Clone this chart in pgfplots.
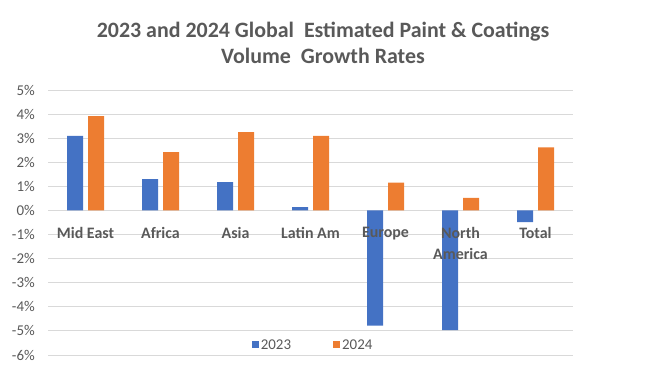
\documentclass[border=0pt]{standalone}
\usepackage{pgfplots}
\pgfplotsset{compat=1.18}
\usepackage{fontspec}
\setmainfont{Carlito}
\definecolor{bblue}{HTML}{4472C4}
\definecolor{borange}{HTML}{ED7D31}
\definecolor{tgray}{HTML}{595959}
\definecolor{ggray}{HTML}{D9D9D9}
\begin{document}
\begin{tikzpicture}[x=1bp,y=1bp]
\path[use as bounding box] (0,0) rectangle (660,376);
\node[anchor=base, font=\fontsize{22}{26}\selectfont\bfseries, text=tgray, inner sep=0pt] at (323,339) {2023 and 2024 Global\ \ Estimated Paint \& Coatings};
\node[anchor=base, font=\fontsize{22}{26}\selectfont\bfseries, text=tgray, inner sep=0pt] at (323,313) {Volume\ \ Growth Rates};
\begin{axis}[
  at={(48bp,21bp)}, anchor=south west,
  scale only axis, width=525bp, height=265bp,
  ybar=5bp, bar width=16bp,
  xmin=-0.5, xmax=6.5, ymin=-6, ymax=5,
  axis line style={draw=none},
  major tick length=0pt,
  ymajorgrids, grid style={ggray, line width=1bp},
  ytick={-6,-5,-4,-3,-2,-1,0,1,2,3,4,5},
  yticklabels={-6\%,-5\%,-4\%,-3\%,-2\%,-1\%,0\%,1\%,2\%,3\%,4\%,5\%},
  yticklabel style={anchor=east, inner sep=0pt, xshift=-13bp, font=\fontsize{15}{17}\selectfont, text=tgray},
  xtick=\empty,
  legend columns=2,
  legend style={at={(0.505,0.038)}, anchor=center, draw=none, fill=none,
    font=\fontsize{15}{17}\selectfont, text=tgray,
    /tikz/every even column/.append style={column sep=40bp}},
  legend image code/.code={\fill[#1] (0bp,-3.5bp) rectangle (7bp,3.5bp);},
  clip=false,
]
\addplot[fill=bblue, draw=none] coordinates {(0,3.1) (1,1.3) (2,1.18) (3,0.14) (4,-4.78) (5,-4.97) (6,-0.48)};
\addplot[fill=borange, draw=none] coordinates {(0,3.92) (1,2.42) (2,3.25) (3,3.1) (4,1.16) (5,0.52) (6,2.62)};
\legend{2023,2024}
\begin{scope}[every node/.style={anchor=north, inner sep=0pt, yshift=-17bp, align=center, font=\fontsize{16}{21}\selectfont\bfseries, text=tgray}]
\node at (axis cs:0,0) {Mid East};
\node at (axis cs:1,0) {Africa};
\node at (axis cs:2,0) {Asia};
\node at (axis cs:3,0) {Latin Am};
\node at (axis cs:4,0) {Europe};
\node at (axis cs:5,0) {North\\America};
\node at (axis cs:6,0) {Total};
\end{scope}
\end{axis}
\end{tikzpicture}
\end{document}
